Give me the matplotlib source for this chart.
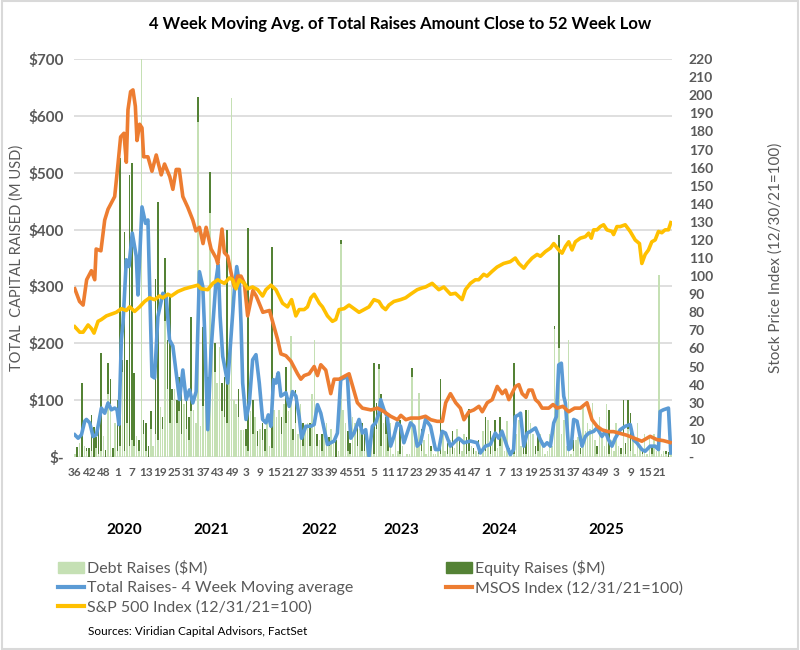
import matplotlib.pyplot as plt
from matplotlib.patches import Patch, Rectangle
from matplotlib.lines import Line2D
import numpy as np

plt.rcParams['font.family'] = ['Lato', 'DejaVu Sans']

# weekly raises ($M), one value per week
debt = [5, 0, 25, 0, 20, 10, 0, 10, 0, 15, 5, 10,
        36, 0, 110, 94, 0, 60, 10, 20, 150, 10, 60, 20,
        30, 20, 36, 10, 700, 40, 10, 0, 50, 20, 40, 30,
        88, 50, 240, 120, 60, 100, 120, 60, 80, 40, 94, 50,
        30, 80, 83, 60, 589, 55, 90, 188, 120, 429, 190, 150,
        130, 194, 80, 70, 60, 165, 631, 100, 94, 70, 47, 47,
        20, 10, 80, 40, 70, 20, 50, 30, 10, 60, 20, 15,
        83, 70, 83, 40, 94, 60, 80, 213, 30, 60, 40, 94,
        20, 50, 60, 20, 110, 206, 20, 30, 10, 60, 60, 20,
        50, 30, 0, 10, 375, 83, 60, 10, 5, 70, 60, 20,
        50, 10, 10, 30, 5, 30, 5, 50, 155, 20, 60, 40,
        10, 60, 5, 60, 10, 5, 20, 0, 5, 5, 140, 48,
        30, 112, 10, 30, 5, 40, 10, 5, 5, 10, 5, 40,
        10, 5, 30, 5, 15, 50, 5, 10, 40, 5, 10, 20,
        5, 10, 5, 0, 45, 10, 65, 5, 30, 10, 15, 20,
        50, 10, 63, 5, 5, 5, 40, 65, 20, 5, 5, 83,
        60, 40, 5, 10, 40, 30, 5, 10, 40, 20, 225, 94,
        192, 40, 65, 20, 206, 5, 10, 30, 35, 5, 94, 45,
        60, 50, 95, 30, 5, 71, 40, 20, 94, 5, 30, 10,
        60, 20, 5, 40, 5, 50, 10, 30, 5, 60, 20, 5,
        40, 5, 35, 5, 40, 10, 320, 5, 10, 5, 0, 5]
equity = [0, 18, 0, 130, 0, 5, 15, 64, 53, 20, 40, 173,
          0, 12, 55, 44, 15, 0, 90, 506, 20, 386, 110, 476,
          487, 127, 0, 20, 0, 25, 50, 20, 30, 0, 274, 419,
          0, 20, 110, 85, 222, 20, 0, 40, 61, 80, 0, 60,
          40, 167, 0, 0, 44, 0, 139, 0, 20, 72, 40, 50,
          0, 0, 50, 70, 339, 0, 0, 0, 0, 50, 0, 0,
          30, 393, 0, 60, 0, 25, 0, 30, 40, 0, 0, 355,
          0, 0, 0, 30, 0, 99, 0, 0, 20, 58, 0, 0,
          40, 0, 0, 40, 0, 0, 20, 0, 30, 0, 0, 15,
          0, 0, 30, 0, 6, 0, 0, 35, 20, 0, 0, 40,
          0, 50, 30, 0, 20, 0, 160, 45, 8, 90, 0, 30,
          35, 0, 0, 0, 0, 60, 0, 0, 0, 0, 16, 0,
          0, 0, 40, 0, 0, 0, 10, 0, 0, 0, 133, 0,
          0, 20, 0, 40, 0, 0, 30, 0, 0, 30, 75, 0,
          10, 0, 25, 0, 0, 60, 0, 40, 0, 55, 0, 50,
          0, 0, 0, 10, 0, 160, 0, 0, 0, 20, 77, 0,
          0, 0, 15, 30, 0, 0, 0, 0, 0, 0, 5, 0,
          199, 0, 0, 0, 0, 0, 20, 0, 0, 10, 0, 0,
          0, 0, 0, 0, 15, 0, 0, 0, 0, 77, 0, 0,
          0, 0, 10, 60, 20, 50, 67, 0, 0, 0, 0, 5,
          0, 0, 0, 15, 0, 0, 0, 0, 0, 5, 8, 0]

# 4 week moving average ($M), read at week positions
ma_weeks = [0, 1.4, 2.8, 4.2, 4.9, 6.3, 7.7, 9.1, 9.8, 11.2, 12.6, 14, 15.4, 16.8, 17.8, 18.6,
            19.6, 20.3, 21.7, 22.8, 24.2, 25.9, 26.6, 28.3, 29.8, 30.8, 31.5, 32.5, 33.6, 35,
            37.1, 38.5, 39.9, 41.3, 44.1, 45.5, 46.9, 48.3, 49.7, 51.1, 52.5, 53.9, 54.6, 56,
            57.4, 59.5, 60.4, 61.2, 62.3, 64.4, 65.8, 67.2, 68.2, 69.3, 70, 70.7, 72.1, 73.5,
            74.9, 76.3, 77.7, 79.1, 80.5, 81.5, 82.6, 83.7, 84.7, 85.7, 86.8, 88.9, 90.3, 91.7,
            93.1, 94.5, 95.5, 97.3, 99.4, 100.8, 102.2, 103.6, 106.4, 109.2, 110.6, 112, 114.8,
            116.2, 117.6, 119.7, 121.1, 122.5, 123.9, 125.3, 126.7, 128.1, 128.8, 130.2, 131.6,
            133, 134.4, 135.8, 137.2, 138.6, 141.4, 142.8, 144.2, 145.6, 147.7, 149.8, 151.9,
            153.3, 154.7, 156.1, 158.2, 160.3, 161.7, 163.8, 166.6, 169.4, 170.8, 172.9, 175,
            177.1, 178.5, 179.9, 182, 183.4, 184.8, 185.5, 186.9, 187.7, 189.1, 190.5, 191.9,
            194, 196.1, 197.5, 198.9, 200.3, 201.7, 202.8, 203.8, 204.9, 205.9, 206.6, 208, 209,
            210.1, 211.5, 213.6, 215, 216.4, 218.5, 219.9, 222, 223.4, 224.8, 226.2, 227.6,
            229.7, 231.8, 233.9, 235.3, 236.7, 238.8, 240.2, 242.3, 244.4, 245.8, 246.5, 247.9,
            250, 251]
ma_vals = [39, 33, 39, 63, 66, 60, 36, 39, 54, 86, 77, 95, 83, 86, 83, 57,
           206, 235, 347, 335, 394, 353, 285, 440, 411, 417, 306, 142, 139, 247,
           288, 282, 206, 195, 101, 153, 101, 118, 95, 115, 326, 300, 230, 48,
           189, 312, 338, 247, 177, 130, 212, 294, 335, 306, 235, 130, 66, 95,
           171, 180, 130, 66, 60, 74, 54, 136, 130, 148, 107, 113, 89, 115,
           107, 71, 33, 54, 54, 57, 92, 77, 22, 28, 42, 136, 142,
           33, 42, 66, 42, 48, 1, 54, 60, 77, 101, 83, 71,
           19, 36, 60, 54, 25, 60, 54, 19, 25, 66, 54, 13,
           13, 45, 42, 19, 28, 33, 25, 28, 25, 7, 19, 22,
           42, 33, 45, 19, 4, 13, 71, 74, 77, 19, 42, 45,
           51, 30, 19, 25, 19, 60, 71, 162, 165, 107, 95, 13, 16,
           66, 63, 19, 36, 42, 45, 51, 36, 45, 30, 19, 33,
           48, 54, 57, 30, 25, 13, 10, 19, 19, 13, 80, 83,
           86, 7]

# MSOS index (12/31/21=100)
msos_weeks = [0, 2, 3.5, 5, 7, 8.4, 9, 11, 12.6, 14, 16.8, 18.2, 19.3, 20.7, 21.7, 22.4,
              23.5, 24.5, 25.5, 26.2, 27.3, 28.3, 29, 30.8, 32.5, 34.3, 36.4, 37.8, 40, 41.3,
              42.7, 44, 45.5, 47.6, 49.7, 51, 52.5, 54, 55.3, 57.4, 59.5, 60.2, 62, 63, 64.4,
              65.8, 67.2, 68.6, 70, 71.4, 72.8, 75, 76.4, 79.2, 82, 85.4, 86.8, 88.9, 91, 93.8,
              95.2, 96.6, 98.7, 100.8, 102.2, 103.6, 105.7, 107.8, 109.2, 111.3, 114.1, 115.5,
              119, 121.1, 124.7, 127.5, 130.3, 133, 135.9, 137.3, 139.4, 141.5, 145, 147.7,
              149.9, 152.6, 154.8, 156.2, 158.2, 160.4, 162.4, 163.9, 166, 168, 170.2, 171.6,
              173.7, 175.8, 177.9, 180, 181.4, 182.8, 185.6, 187, 188.4, 190, 191.2, 192.6, 194,
              195.4, 196.8, 199.6, 201.4, 203.1, 205.5, 208, 210.5, 212.9, 215.7, 217.8, 219.9,
              222, 224.6, 226.9, 229.7, 232.5, 235.3, 238.8, 242.3, 245.1, 247.9, 250.7]
msos_vals = [93, 86, 84, 98, 103, 98, 115, 114, 131, 137, 144, 162, 177, 179, 163, 192,
             202, 203, 194, 175, 184, 182, 166, 166, 158, 167, 156, 162, 155, 148,
             159, 159, 144, 138, 131, 125, 127, 118, 127, 115, 110, 107, 126, 113, 111,
             102, 94, 100, 100, 96, 78, 92, 89, 80, 81, 65, 57, 56, 53, 46,
             43, 45, 46, 50, 45, 51, 48, 35, 43, 43, 45, 46,
             30, 27, 26, 27, 25, 22.5, 20.6, 23, 20.6, 21.5, 21.5, 22.5,
             20.6, 19.7, 19.7, 30, 35, 30, 27, 20.6, 25, 26, 28, 25,
             30, 31.7, 39, 35, 37, 31.7, 39, 40, 35, 33, 37, 37, 31.7,
             30, 27, 27, 29, 27, 28, 25, 27, 27, 30, 20.6, 17,
             15, 14, 14, 13, 12, 10.5, 8.7, 11.4, 9.6, 9, 8]

# S&P 500 index (12/31/21=100)
sp_weeks = [0, 2.1, 3.5, 5.6, 7, 8.1, 9.8, 11.2, 13.3, 15.4, 17.5, 19.6, 21.7, 23.1, 25.2,
            27.3, 29.4, 31.5, 33.6, 35.7, 37.1, 39.2, 40.6, 43.4, 46.2, 49, 51.8, 53.2, 56,
            58.1, 60.2, 61.5, 63, 65.1, 66.5, 67.9, 69.3, 71.4, 72.8, 74.9, 77, 79.1, 80.5,
            82.6, 84.7, 87.5, 89.6, 91.3, 93.1, 94.5, 96.6, 98, 99.4, 100.8, 103, 104.3, 106.4,
            108.5, 109.9, 111.3, 113.4, 115.5, 117.6, 119.7, 121.8, 123.9, 126, 128.1, 129.5,
            130.9, 132.3, 134.4, 137.2, 139.3, 141.4, 144.2, 146.3, 147.7, 150.5, 153.3, 155.4,
            158.2, 160.3, 163.1, 164.5, 166.6, 168.7, 170.1, 172.2, 173.6, 175.7, 177.8, 180.6,
            183.4, 185.5, 187, 189.1, 190.5, 192.6, 194.7, 196.1, 198.2, 200.3, 201.7, 203.8,
            205.2, 206.6, 208, 209.4, 210.8, 212.9, 215, 216.4, 217.5, 218.5, 219.9, 221.3,
            222.7, 224.1, 226.2, 226.9, 228.3, 229.7, 231.8, 233.9, 236, 237.8, 238.8, 240.2,
            241.6, 243, 244.4, 245.8, 247.2, 248.6, 250, 251]
sp_vals = [72, 69, 69, 73, 71, 68.5, 75, 76, 78, 79, 80, 82, 81, 83, 80.5,
           83, 86, 88, 87, 89, 88, 90, 89, 91.5, 93, 94, 95, 93, 92.5,
           96, 98, 97, 96, 99, 98, 93, 98, 96, 93, 94, 92.5, 89, 92.5,
           95, 92.5, 85, 83, 87, 78, 81.5, 81.5, 83, 88, 90, 85, 83, 78,
           75, 76, 81.5, 82, 84, 82, 80, 81.5, 83, 87, 86, 83,
           81.5, 84, 86, 87, 88, 90, 92.5, 93.5, 94, 96, 92.5, 94,
           90, 90.5, 87, 92.5, 96, 98, 98, 101, 100, 102.6, 105, 107,
           108, 110, 107, 104.4, 107, 110, 112, 111, 113.6, 115.5, 118, 114.5,
           112.7, 116.4, 119, 114.5, 119, 121, 121.8, 123.8, 121, 125.6, 125.6, 127.4,
           128.4, 125.6, 124.7, 123, 127.4, 127.4, 128.4, 124.7, 120, 118, 107, 112,
           114.5, 119, 120, 124.7, 124, 125.6, 125.6, 129.6]

week_labels = ["36", "42", "48", "1", "7", "13", "19", "25", "31", "37", "43", "49",
               "3", "9", "15", "21", "27", "33", "39", "45", "51", "5", "11", "17",
               "23", "29", "35", "41", "47", "1", "7", "13", "19", "25", "31", "37",
               "43", "49", "3", "9", "15", "21"]
years = ["2020", "2021", "2022", "2023", "2024", "2025"]
year_pos = [21, 57.6, 103, 137.4, 178.6, 224]

weeks = np.arange(len(debt))
grey = "#595959"

fig = plt.figure(figsize=(8, 6.5), dpi=100)
ax = fig.add_axes([0.092, 0.297, 0.748, 0.612])

ax.bar(weeks, debt, width=0.65, color="#c5e0b4", zorder=2)
ax.bar(weeks, equity, bottom=debt, width=0.65, color="#548235", zorder=2)
ax.plot(ma_weeks, ma_vals, color="#5b9bd5", lw=2.6, zorder=3, solid_joinstyle="round")

ax.set_xlim(-0.5, len(debt) - 0.5)
ax.set_ylim(0, 700)
ax.set_yticks(range(0, 701, 100))
ax.set_yticklabels(["$-"] + ["$%d" % v for v in range(100, 701, 100)],
                   fontsize=11, fontweight="bold", color=grey)
ax.set_xticks(weeks[::6])
ax.set_xticklabels(week_labels, fontsize=8.5, fontweight="bold", color=grey)
ax.tick_params(length=0, pad=7)
ax.grid(axis="y", color="#d9d9d9", lw=1.2)
ax.set_axisbelow(True)
for s in ax.spines.values():
    s.set_visible(False)
ax.set_ylabel("TOTAL  CAPITAL RAISED (M USD)", fontsize=10.5, color=grey, labelpad=3)

for yr, xp in zip(years, year_pos):
    ax.text(xp, -0.183, yr, transform=ax.get_xaxis_transform(), ha="center", va="center",
            fontsize=11, fontweight="bold", color="black")

ax2 = ax.twinx()
ax2.plot(msos_weeks, msos_vals, color="#ed7d31", lw=2.6, solid_joinstyle="round")
ax2.plot(sp_weeks, sp_vals, color="#ffc000", lw=2.6, solid_joinstyle="round")
ax2.set_ylim(0, 220)
ax2.set_yticks(range(0, 221, 10))
ax2.set_yticklabels(["-"] + [str(v) for v in range(10, 221, 10)],
                    fontsize=10, fontweight="bold", color=grey)
ax2.tick_params(length=0, pad=12)
for s in ax2.spines.values():
    s.set_visible(False)
ax2.set_ylabel("Stock Price Index (12/30/21=100)", fontsize=11, color=grey, labelpad=40)

fig.suptitle("4 Week Moving Avg. of Total Raises Amount Close to 52 Week Low",
             x=0.5, y=0.975, fontsize=12, fontweight="bold")

handles = [Patch(color="#c5e0b4"),
           Line2D([], [], color="#5b9bd5", lw=3),
           Line2D([], [], color="#ffc000", lw=3),
           Patch(color="#548235"),
           Line2D([], [], color="#ed7d31", lw=3)]
names = ["Debt Raises ($M)", "Total Raises- 4 Week Moving average",
         "S&P 500 Index (12/31/21=100)", "Equity Raises ($M)", "MSOS Index (12/31/21=100)"]
leg = fig.legend(handles, names, ncol=2, loc="upper left", bbox_to_anchor=(0.065, 0.148),
                 frameon=False, fontsize=11.5, handlelength=1.6, columnspacing=5.8,
                 labelspacing=0.3, handletextpad=0.2, borderaxespad=0)
for t in leg.get_texts():
    t.set_color(grey)

fig.text(0.11, 0.028, "Sources: Viridian Capital Advisors, FactSet", fontsize=8.5, color="black",
         va="center")

fig.add_artist(Rectangle((0.002, 0.002), 0.996, 0.996, transform=fig.transFigure,
                         fill=False, edgecolor="#d9d9d9", lw=1.5))

fig.savefig("out.png", dpi=100)
